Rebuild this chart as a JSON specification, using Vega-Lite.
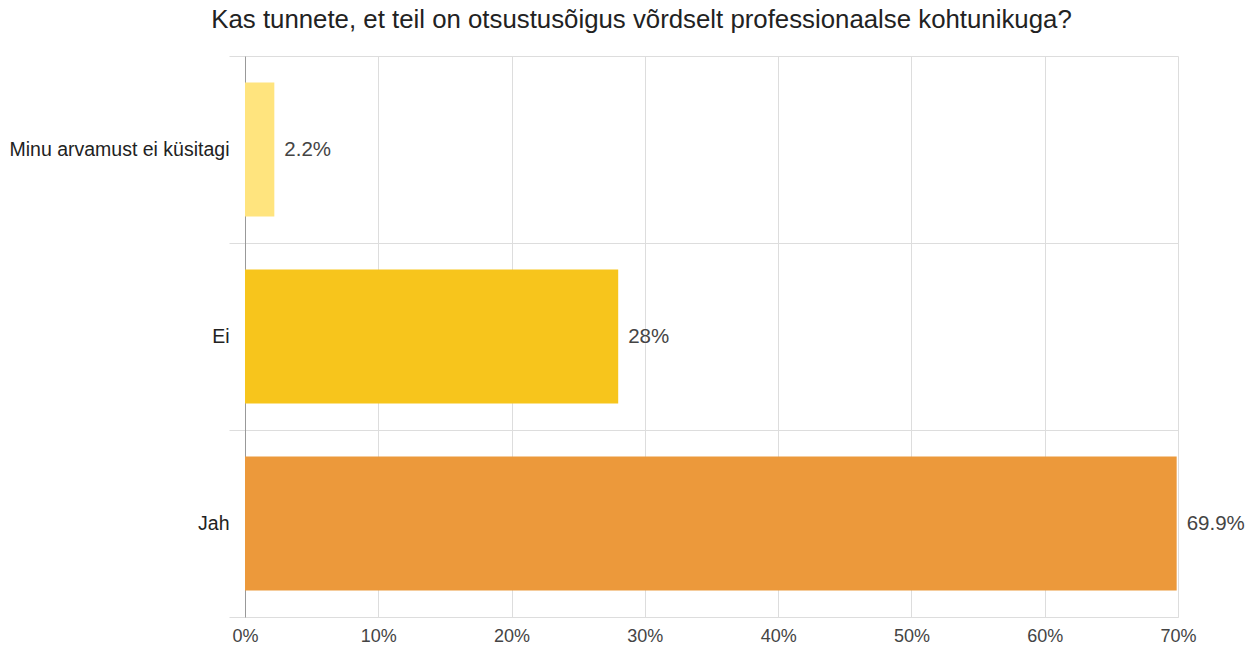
{
  "$schema": "https://vega.github.io/schema/vega-lite/v6.json",
  "width": 933,
  "height": 561,
  "autosize": {"type": "none"},
  "padding": {"left": 245, "top": 56, "right": 74, "bottom": 29},
  "background": "white",
  "title": {
    "text": "Kas tunnete, et teil on otsustusõigus võrdselt professionaalse kohtunikuga?",
    "font": "Liberation Sans",
    "fontSize": 25.8,
    "fontWeight": "normal",
    "color": "#222222",
    "anchor": "middle",
    "dx": -70,
    "offset": 12
  },
  "data": {
    "values": [
      {"answer": "Minu arvamust ei küsitagi", "pct": 2.2, "label": "2.2%"},
      {"answer": "Ei", "pct": 28, "label": "28%"},
      {"answer": "Jah", "pct": 69.9, "label": "69.9%"}
    ]
  },
  "encoding": {
    "y": {
      "field": "answer",
      "type": "nominal",
      "sort": null,
      "scale": {"paddingInner": 0, "paddingOuter": 0},
      "axis": {
        "title": null,
        "labelFont": "Liberation Sans",
        "labelFontSize": 19.5,
        "labelColor": "#222222",
        "labelPadding": 0,
        "labelLimit": 400,
        "tickSize": 16,
        "tickColor": "#dddddd",
        "tickBand": "extent",
        "grid": true,
        "gridColor": "#dddddd",
        "domainColor": "#999999"
      }
    },
    "x": {
      "field": "pct",
      "type": "quantitative",
      "scale": {"domain": [0, 70], "nice": false},
      "axis": {
        "title": null,
        "values": [0, 10, 20, 30, 40, 50, 60, 70],
        "labelExpr": "datum.value + '%'",
        "labelFont": "Liberation Sans",
        "labelFontSize": 18,
        "labelColor": "#444444",
        "labelPadding": 10,
        "labelFlush": false,
        "ticks": false,
        "grid": true,
        "gridColor": "#dddddd",
        "domainColor": "#dddddd"
      }
    }
  },
  "layer": [
    {
      "mark": {"type": "bar", "height": {"band": 0.717}},
      "encoding": {
        "color": {
          "field": "answer",
          "type": "nominal",
          "scale": {
            "domain": ["Minu arvamust ei küsitagi", "Ei", "Jah"],
            "range": ["#FFE47E", "#F7C51C", "#EC993B"]
          },
          "legend": null
        }
      }
    },
    {
      "mark": {
        "type": "text",
        "align": "left",
        "baseline": "middle",
        "dx": 10,
        "font": "Liberation Sans",
        "fontSize": 20.5,
        "color": "#444444"
      },
      "encoding": {"text": {"field": "label"}}
    }
  ],
  "config": {"view": {"stroke": null}}
}
